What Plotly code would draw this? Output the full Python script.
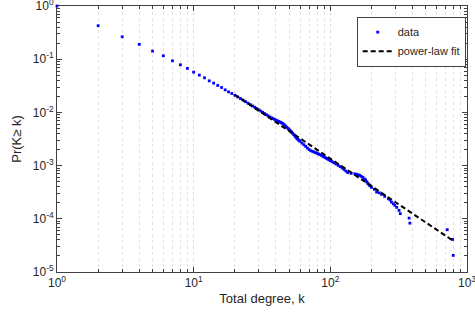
import plotly.graph_objects as go

# ---- data ----
degree_k = [1, 2, 3, 4, 5, 6, 7, 8, 9, 10, 11, 12, 13, 14, 15, 16, 17, 18, 19,
            20, 21, 22, 23, 24, 25, 26, 27, 28, 29, 30, 31, 32, 33, 34, 35, 36,
            37, 38, 39, 40, 41, 42, 43, 44, 45, 46, 47, 48, 49, 50, 51, 52,
            53, 54, 55, 56, 57, 58, 59, 60, 62, 64, 66, 68, 70, 72, 74, 76,
            78, 80, 82, 84, 86, 88, 90, 92, 94, 96, 98, 100, 103, 106, 110,
            114, 118, 122, 126, 130, 134, 142, 151, 156, 160, 164, 168, 173,
            177, 181, 185, 188, 192, 195, 200, 210, 218, 228, 237, 250, 266,
            273, 280, 289, 297, 306, 318, 325, 377, 382, 717, 785, 793]
ccdf_p = [1.0, 0.426, 0.264, 0.190, 0.142, 0.116, 0.0933, 0.0785, 0.0671,
          0.0571, 0.0502, 0.0447, 0.0392, 0.0355, 0.0321, 0.0294, 0.0265,
          0.0243, 0.0227,
          0.0210, 0.0195, 0.0182, 0.0170, 0.0159, 0.0149, 0.0140, 0.0132,
          0.0125, 0.0118, 0.01117, 0.01057, 0.01002, 0.00952, 0.00906,
          0.00861, 0.00822, 0.00794, 0.00767, 0.00741, 0.00718, 0.00695,
          0.00675, 0.00655, 0.00635, 0.00618, 0.00585, 0.00555, 0.00526,
          0.00499, 0.00474, 0.00451, 0.00430, 0.00405, 0.00382, 0.00361,
          0.00340, 0.00322, 0.00310, 0.00297, 0.00286, 0.00265, 0.00247,
          0.00230, 0.00214, 0.00200, 0.00191, 0.00185, 0.00180, 0.00175,
          0.00170, 0.00165, 0.00161, 0.00156, 0.00150, 0.00145, 0.00141,
          0.00136, 0.00132, 0.00128, 0.00124, 0.00119, 0.00113, 0.00107,
          0.00101, 0.000955, 0.000902, 0.000845, 0.000789, 0.000738,
          0.000716, 0.000701, 0.000686, 0.000671, 0.000656, 0.000629,
          0.000602, 0.000564, 0.000540, 0.000495, 0.000464, 0.000435,
          0.000417, 0.000390, 0.000358, 0.000318, 0.000308, 0.000288,
          0.000264, 0.000239, 0.000227, 0.000206, 0.000191, 0.000179,
          0.000164, 0.000144, 0.000125, 0.000103, 0.0000829, 0.0000624,
          0.0000409, 0.0000205]

fit_k = [20, 800]
fit_p = [0.0215, 0.0000380]

x_tick_vals = [1, 10, 100, 1000]
x_tick_text = ["10<sup>0</sup>", "10<sup>1</sup>", "10<sup>2</sup>", "10<sup>3</sup>"]
y_tick_vals = [1e-5, 1e-4, 1e-3, 1e-2, 1e-1, 1]
y_tick_text = ["10<sup>-5</sup>", "10<sup>-4</sup>", "10<sup>-3</sup>",
               "10<sup>-2</sup>", "10<sup>-1</sup>", "10<sup>0</sup>"]

x_minor = [m * 10 ** e for e in range(0, 3) for m in range(2, 10)]
y_minor = [m * 10.0 ** e for e in range(-5, 0) for m in range(2, 10)]

FONT = "Liberation Sans, Arial, sans-serif"
AX = "#404040"

fig = go.Figure()
fig.add_trace(go.Scatter(
    x=degree_k, y=ccdf_p, mode="markers", name="data",
    marker=dict(color="#0000FF", size=2.8, symbol="square"),
    cliponaxis=False,
))
fig.add_trace(go.Scatter(
    x=fit_k, y=fit_p, mode="lines", name="power-law fit",
    line=dict(color="black", width=2, dash="5px,3px"),
))

fig.update_layout(
    width=475, height=324,
    margin=dict(l=57, r=8, t=6, b=52),
    paper_bgcolor="white", plot_bgcolor="white",
    font=dict(family=FONT, size=12, color="#262626"),
    showlegend=True,
    legend=dict(
        x=0.731, y=0.96, xanchor="left", yanchor="top",
        bgcolor="white", bordercolor=AX, borderwidth=1,
        font=dict(size=11, color="#262626"),
        tracegroupgap=0, itemwidth=30,
    ),
)
fig.update_xaxes(
    type="log", range=[0, 3], automargin=False, layer="below traces",
    tickmode="array", tickvals=x_tick_vals, ticktext=x_tick_text,
    ticks="inside", ticklen=5, tickcolor=AX, ticklabeloverflow="allow",
    showline=True, linecolor=AX, linewidth=1, mirror="allticks",
    showgrid=True, gridcolor="#dcdcdc", gridwidth=1, griddash="dot",
    minor=dict(tickmode="array", tickvals=x_minor, ticks="inside", ticklen=3,
               tickcolor=AX, showgrid=True, gridcolor="#e2e2e2", griddash="dot"),
    title=dict(text="Total degree, k", font=dict(size=13, color="#262626"), standoff=4),
    tickfont=dict(size=12, color="#262626"),
    zeroline=False,
)
fig.update_yaxes(
    type="log", range=[-5, 0], automargin=False, layer="below traces",
    tickmode="array", tickvals=y_tick_vals, ticktext=y_tick_text,
    ticks="inside", ticklen=5, tickcolor=AX, ticklabeloverflow="allow",
    showline=True, linecolor=AX, linewidth=1, mirror="allticks",
    showgrid=False,
    minor=dict(tickmode="array", tickvals=y_minor, ticks="inside", ticklen=3,
               tickcolor=AX, showgrid=False),
    title=dict(text="Pr(K≥ k)", font=dict(size=13, color="#262626"), standoff=8),
    tickfont=dict(size=12, color="#262626"),
    zeroline=False,
)

fig.write_html("out.html")
